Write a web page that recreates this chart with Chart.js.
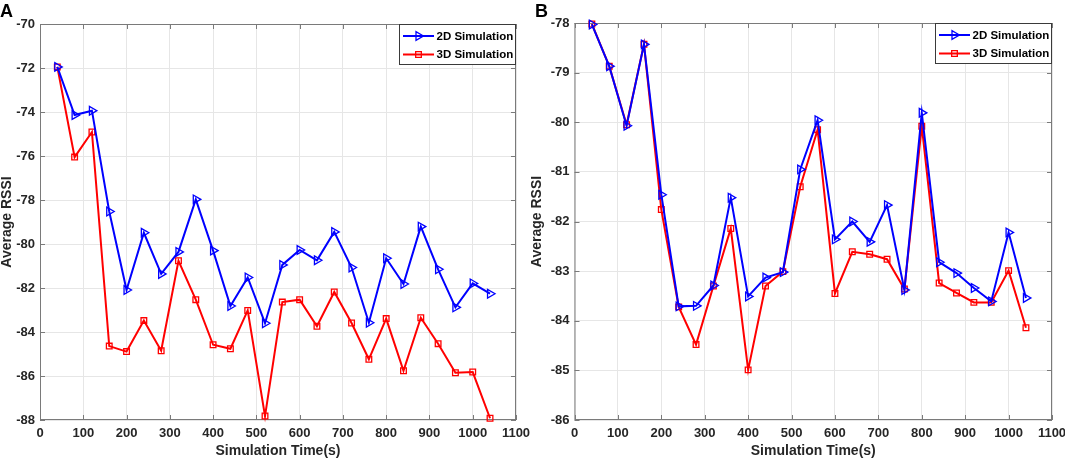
<!DOCTYPE html>
<html>
<head>
<meta charset="utf-8">
<script src="https://cdn.jsdelivr.net/npm/chart.js@4.4.0/dist/chart.umd.min.js"></script>
<style>
body { margin: 0; background: #fff; width: 1065px; height: 460px; overflow: hidden; position: relative; }
.panel { position: absolute; top: 0; height: 460px; }
</style>
</head>
<body>
<div class="panel" style="left:0;width:530px"><canvas id="chartA" width="530" height="460"></canvas></div>
<div class="panel" style="left:530px;width:535px"><canvas id="chartB" width="535" height="460"></canvas></div>
<script>
// simulation time points (s)
var simTime = [40, 80, 120, 160, 200, 240, 280, 320, 360, 400, 440, 480, 520,
               560, 600, 640, 680, 720, 760, 800, 840, 880, 920, 960, 1000, 1040];

// panel A
var rssi2dA = [-71.95, -74.14, -73.94, -78.52, -82.09, -79.49, -81.36, -80.36, -77.97, -80.30, -82.82, -81.52, -83.60,
               -80.95, -80.27, -80.74, -79.45, -81.07, -83.58, -80.65, -81.82, -79.21, -81.15, -82.88, -81.79, -82.26];
var rssi3dA = [-71.95, -76.05, -74.91, -84.64, -84.89, -83.48, -84.85, -80.76, -82.53, -84.58, -84.76, -83.02, -87.82,
               -82.64, -82.53, -83.74, -82.18, -83.59, -85.24, -83.39, -85.76, -83.35, -84.53, -85.85, -85.82, -87.92];

// panel B
var rssi2dB = [-78.03, -78.87, -80.07, -78.43, -81.46, -83.71, -83.70, -83.29, -81.52, -83.51, -83.13, -83.02, -80.95,
               -79.96, -82.36, -82.00, -82.41, -81.67, -83.38, -79.81, -82.82, -83.04, -83.34, -83.61, -82.22, -83.54];
var rssi3dB = [-78.02, -78.87, -80.05, -78.43, -81.76, -83.72, -84.48, -83.30, -82.14, -84.99, -83.30, -83.01, -81.30,
               -80.15, -83.45, -82.61, -82.66, -82.76, -83.36, -80.08, -83.24, -83.44, -83.63, -83.63, -82.99, -84.14];

var seriesNames = ['2D Simulation', '3D Simulation'];

var FONT = '"Liberation Sans", Arial, Helvetica, sans-serif';

function toPoints(ys) {
    return simTime.map(function(t, i) { return { x: t, y: ys[i] }; });
}

// box around the plot plus inward ticks, MATLAB style
var framePlugin = {
    id: 'frame',
    beforeDatasetsDraw: function(chart) {
        var ctx = chart.ctx, a = chart.chartArea;
        var xs = chart.scales.x, ys = chart.scales.y;
        ctx.save();
        ctx.strokeStyle = '#7a7a7a';
        ctx.lineWidth = 1;
        ctx.strokeRect(a.left + 0.5, a.top + 0.5, a.right - a.left - 1, a.bottom - a.top - 1);
        ctx.beginPath();
        xs.ticks.forEach(function(t) {
            var px = Math.round(xs.getPixelForValue(t.value)) + 0.5;
            ctx.moveTo(px, a.bottom); ctx.lineTo(px, a.bottom - 5);
            ctx.moveTo(px, a.top); ctx.lineTo(px, a.top + 5);
        });
        ys.ticks.forEach(function(t) {
            var py = Math.round(ys.getPixelForValue(t.value)) + 0.5;
            ctx.moveTo(a.left, py); ctx.lineTo(a.left + 5, py);
            ctx.moveTo(a.right, py); ctx.lineTo(a.right - 5, py);
        });
        ctx.stroke();
        ctx.restore();
    }
};

function drawMarker(ctx, style, x, y, r) {
    ctx.beginPath();
    if (style === 'triangle') {
        ctx.moveTo(x + r, y);
        ctx.lineTo(x - r / 2, y - r * 0.866);
        ctx.lineTo(x - r / 2, y + r * 0.866);
        ctx.closePath();
    } else {
        var s = r * Math.SQRT1_2;
        ctx.rect(x - s, y - s, 2 * s, 2 * s);
    }
    ctx.stroke();
}

// legend box in the top-right corner + panel letter
var boxLegendPlugin = {
    id: 'boxLegend',
    afterDraw: function(chart, args, opts) {
        var ctx = chart.ctx, a = chart.chartArea;
        var w = opts.width, h = 41;
        var left = a.right - w, top = a.top;
        ctx.save();
        ctx.fillStyle = '#fff';
        ctx.fillRect(left, top, w, h);
        ctx.strokeStyle = '#3a3a3a';
        ctx.lineWidth = 1;
        ctx.strokeRect(left + 0.5, top + 0.5, w - 1, h - 1);
        chart.data.datasets.forEach(function(ds, i) {
            var y = top + 12 + i * 18.5;
            ctx.strokeStyle = ds.borderColor;
            ctx.lineWidth = 2;
            ctx.beginPath();
            ctx.moveTo(left + 4, y);
            ctx.lineTo(left + 35, y);
            ctx.stroke();
            ctx.lineWidth = 1.3;
            drawMarker(ctx, ds.pointStyle, left + 19.5, y, ds.pointRadius);
            ctx.fillStyle = '#000';
            ctx.font = 'bold 11.5px ' + FONT;
            ctx.textBaseline = 'middle';
            ctx.textAlign = 'left';
            ctx.fillText(ds.label, left + 37.5, y + 0.5);
        });
        ctx.font = 'bold 18px ' + FONT;
        ctx.textBaseline = 'alphabetic';
        ctx.fillStyle = '#000';
        ctx.fillText(opts.letter, opts.letterX, 16.5);
        ctx.restore();
    }
};

function makeChart(id, d2, d3, yMin, yMax, yStep, yWidth, padTop, padRight, letter, letterX) {
    var ctx = document.getElementById(id).getContext('2d');
    return new Chart(ctx, {
        type: 'line',
        data: {
            datasets: [{
                label: seriesNames[0],
                data: toPoints(d2),
                borderColor: '#0000ff',
                borderWidth: 2,
                pointStyle: 'triangle',
                pointRotation: 90,
                pointRadius: 5,
                pointBorderWidth: 1.3,
                pointBorderColor: '#0000ff',
                pointBackgroundColor: 'rgba(0,0,0,0)',
                fill: false,
                tension: 0
            }, {
                label: seriesNames[1],
                data: toPoints(d3),
                borderColor: '#ff0000',
                borderWidth: 2,
                pointStyle: 'rect',
                pointRadius: 4,
                pointBorderWidth: 1.3,
                pointBorderColor: '#ff0000',
                pointBackgroundColor: 'rgba(0,0,0,0)',
                fill: false,
                tension: 0
            }]
        },
        options: {
            responsive: false,
            animation: false,
            clip: false,
            layout: { padding: { top: padTop, right: padRight, left: 0, bottom: 0 } },
            scales: {
                x: {
                    type: 'linear',
                    min: 0,
                    max: 1100,
                    ticks: {
                        stepSize: 100, padding: 6, color: '#262626', maxRotation: 0,
                        font: { family: FONT, size: 13, weight: 'bold' },
                        callback: function(v) { return String(v); }
                    },
                    grid: { color: '#e6e6e6', drawTicks: false },
                    border: { display: false },
                    title: { display: true, text: 'Simulation Time(s)', color: '#262626', padding: 2, font: { family: FONT, size: 14, weight: 'bold', lineHeight: 1 } },
                    afterFit: function(scale) { scale.height = 40; scale.paddingLeft = 0; scale.paddingRight = 0; }
                },
                y: {
                    min: yMin,
                    max: yMax,
                    ticks: {
                        stepSize: yStep, padding: 5, color: '#262626',
                        font: { family: FONT, size: 13, weight: 'bold' },
                        callback: function(v) { return String(v); }
                    },
                    grid: { color: '#e6e6e6', drawTicks: false },
                    border: { display: false },
                    title: { display: true, text: 'Average RSSI', color: '#262626', padding: 0.5, font: { family: FONT, size: 14, weight: 'bold', lineHeight: 1 } },
                    afterFit: function(scale) { scale.width = yWidth; scale.paddingTop = 0; scale.paddingBottom = 0; }
                }
            },
            plugins: {
                legend: { display: false },
                tooltip: { enabled: false },
                boxLegend: { width: 117, letter: letter, letterX: letterX }
            }
        },
        plugins: [framePlugin, boxLegendPlugin]
    });
}

window.onload = function() {
    makeChart('chartA', rssi2dA, rssi3dA, -88, -70, 2, 40, 24, 14, 'A', 0);
    makeChart('chartB', rssi2dB, rssi3dB, -86, -78, 1, 44.5, 23, 13, 'B', 5);
};
</script>
</body>
</html>
